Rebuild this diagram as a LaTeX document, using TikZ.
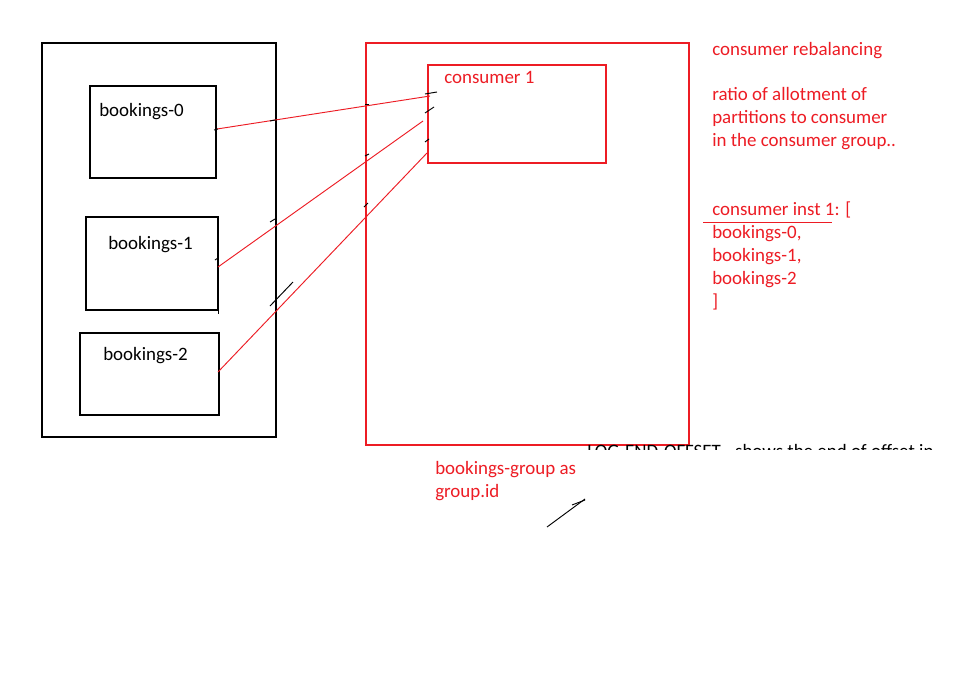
\documentclass[tikz,border=0pt]{standalone}
\usepackage{fontspec}
\setmainfont{Carlito}
\usetikzlibrary{positioning,calc,fit}
\definecolor{paintRed}{RGB}{237,28,36}
\tikzset{
    partBox/.style={
        ,   draw=black
        ,   line width=0.8pt
        ,   inner sep=0pt
    },
    groupBox/.style={
        ,   draw=paintRed
        ,   line width=0.9pt
        ,   inner sep=0pt
    },
    blackTxt/.style={
        ,   anchor=base west
        ,   inner sep=0pt
        ,   text=black
        ,   font=\fontsize{14.2}{17}\selectfont
    },
    redTxt/.style={
        ,   blackTxt
        ,   text=paintRed
    },
    link/.style={draw=paintRed, line width=0.7pt},
    tick/.style={draw=black, line width=0.7pt}
}
\begin{document}
\begin{tikzpicture}[x=0.75pt, y=-0.75pt]
			\fill[white] (0,0) rectangle (960,686);
			\useasboundingbox (0,0) rectangle (960,686);
			
			% topic with its partitions
			\node[partBox, fit={(42,43) (276,437)}] (topic) {};
			\node[partBox, fit={(90,86) (216,178)}] (b0) {};
			\node[partBox, fit={(86,217) (218,310)}] (b1) {};
			\node[partBox, fit={(80,333) (219,415)}] (b2) {};
			\draw[tick] (b1.south east) -- ++(0,3);
			\node[blackTxt] (b0txt) at (99,116) {bookings-0};
			\node[blackTxt] (b1txt) at (108,249) {bookings-1};
			\node[blackTxt] (b2txt) at (103,360) {bookings-2};
			
			% consumer group
			\node[groupBox, fit={(366,43) (689,445)}] (group) {};
			\node[groupBox, fit={(428,65) (606,163)}] (c1) {};
			\node[redTxt] (c1txt) at (444,83) {consumer 1};
			\node[redTxt] (grptxt) at (435,474) {bookings-group as};
			\node[redTxt] (grpid) at (435,497) {group.id};
			
			\coordinate (b0out) at (217,129);
			\coordinate (b1out) at (218,267);
			\coordinate (b2out) at (218,372);
			\coordinate (c1in0) at (430,96);
			\coordinate (c1in1) at (423,121);
			\coordinate (c1in2) at (427,153);
			\draw[link] (b0out) -- (c1in0);
			\draw[link] (b1out) -- (c1in1);
			\draw[link] (b2out) -- (c1in2);
			
			% pen strokes
			\foreach \xa/\ya/\xb/\yb in {214/130/218/129, 270/121/275/120, 365/104/369/104,
				425/94/437/92, 425/113/434/107, 425/142/429/139, 365/156/369/154,
				364/207/368/203, 270/222/275/219, 215/260/218/258, 270/306/293/282,
				547/527/585/499, 572/505/585/500}{
				\draw[tick] (\xa,\ya) -- (\xb,\yb);
			}
			
			% notes on the right
			\node[redTxt] (note0) at (712,55) {consumer rebalancing};
			\foreach \t [count=\i] in {ratio of allotment of, partitions to consumer, in the consumer group..}{
				\node[redTxt] (ratio\i) at (712,77+23*\i) {\t};
			}
			\foreach \t [count=\i] in {consumer inst 1: [, {bookings-0,}, {bookings-1,}, bookings-2, ]}{
				\node[redTxt] (inst\i) at (712,192+23*\i) {\t};
			}
			\draw[link] (703,222) -- (832,222);
			
			% text cut off below the group box
			\begin{scope}
				\clip (580,440) rectangle (940,449);
				\node[blackTxt] (logend) at (587,457.5) {LOG-END-OFFSET - shows the end of offset in};
			\end{scope}
\end{tikzpicture}
\end{document}
